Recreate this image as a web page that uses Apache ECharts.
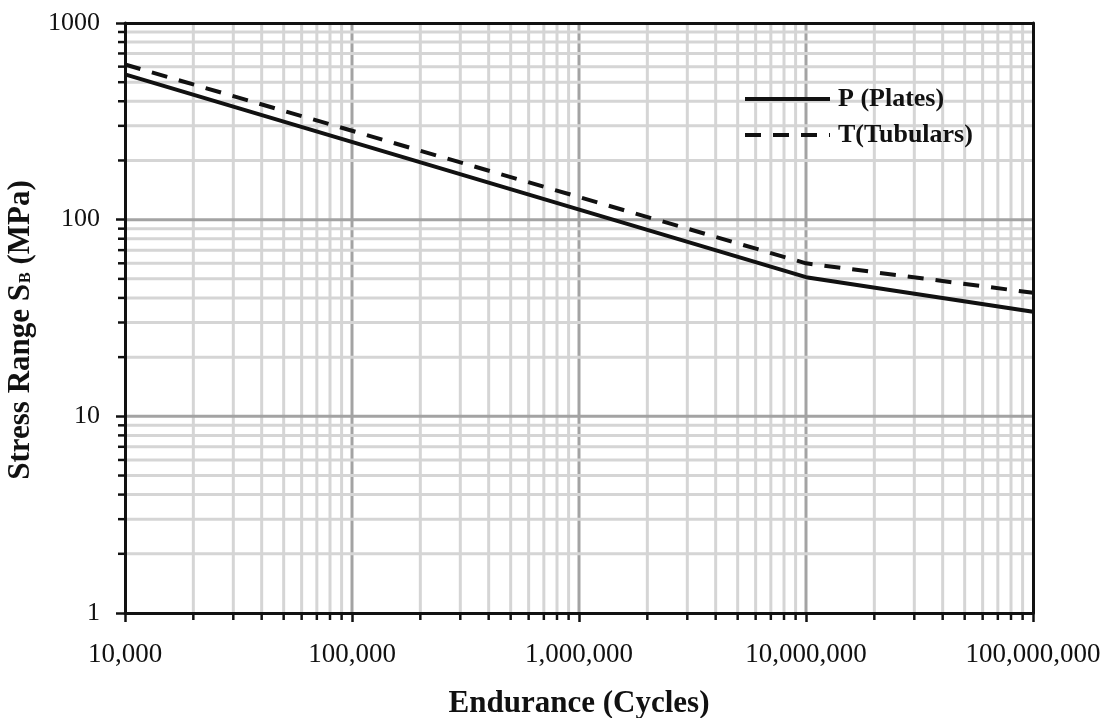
<!DOCTYPE html>
<html>
<head>
<meta charset="utf-8">
<title>S-N Curves</title>
<script src="https://cdn.jsdelivr.net/npm/echarts@6/dist/echarts.min.js"></script>
<style>
  html, body { margin: 0; padding: 0; background: #ffffff; }
  #chart { width: 1117px; height: 718px; }
</style>
</head>
<body>
<div id="chart"></div>
<script>
// Endurance (cycles) at the curve breakpoints
const cycles = [1e4, 1e7, 1e8];
// Stress range (MPa) for each design curve
const platesStress = [548, 51, 34];
const tubularsStress = [615, 60, 42.5];

// Axis decades and their labels
const xTicks = [1e4, 1e5, 1e6, 1e7, 1e8];
const xTickLabels = ['10,000', '100,000', '1,000,000', '10,000,000', '100,000,000'];
const yTicks = [1, 10, 100, 1000];
const yTickLabels = ['1', '10', '100', '1000'];

const seriesNames = ['P (Plates)', 'T(Tubulars)'];

const X_MIN = xTicks[0], X_MAX = xTicks[xTicks.length - 1];
const Y_MIN = yTicks[0], Y_MAX = yTicks[yTicks.length - 1];

// Log-grid positions: 2..9 within each decade plus the inner decades
function gridValues(decades) {
  const out = [];
  for (let i = 0; i < decades.length - 1; i++) {
    if (i > 0) out.push({ v: decades[i], major: true });
    for (let m = 2; m <= 9; m++) out.push({ v: m * decades[i], major: false });
  }
  return out;
}
const xGrid = gridValues(xTicks);
const yGrid = gridValues(yTicks);

const FONT = "'Liberation Serif', 'Times New Roman', serif";
const MINOR_COLOR = '#d5d5d5';
const MAJOR_COLOR = '#a3a3a3';
const INK = '#111111';

function vertGrid(params, api) {
  const g = xGrid[params.dataIndex];
  const bottom = api.coord([g.v, Y_MIN]);
  const top = api.coord([g.v, Y_MAX]);
  const children = [{
    type: 'line',
    shape: { x1: bottom[0], y1: top[1], x2: bottom[0], y2: bottom[1] },
    style: { stroke: g.major ? MAJOR_COLOR : MINOR_COLOR, lineWidth: 3 }
  }];
  if (!g.major) {
    children.push({
      type: 'line',
      shape: { x1: bottom[0], y1: bottom[1], x2: bottom[0], y2: bottom[1] + 7 },
      style: { stroke: INK, lineWidth: 2.5 }
    });
  }
  return { type: 'group', children: children };
}

function horizGrid(params, api) {
  const g = yGrid[params.dataIndex];
  const left = api.coord([X_MIN, g.v]);
  const right = api.coord([X_MAX, g.v]);
  const children = [{
    type: 'line',
    shape: { x1: left[0], y1: left[1], x2: right[0], y2: left[1] },
    style: { stroke: g.major ? MAJOR_COLOR : MINOR_COLOR, lineWidth: 3 }
  }];
  if (!g.major) {
    children.push({
      type: 'line',
      shape: { x1: left[0] - 7, y1: left[1], x2: left[0], y2: left[1] },
      style: { stroke: INK, lineWidth: 2.5 }
    });
  }
  return { type: 'group', children: children };
}

const chart = echarts.init(document.getElementById('chart'), null, { renderer: 'canvas' });

// Top and right frame edges
const frameAxisCommon = {
  type: 'log', logBase: 10, z: 3,
  axisLine: { show: true, lineStyle: { color: INK, width: 3 } },
  axisTick: { show: false }, axisLabel: { show: false },
  splitLine: { show: false }, minorTick: { show: false }
};

chart.setOption({
  animation: false,
  backgroundColor: '#ffffff',
  textStyle: { fontFamily: FONT },
  grid: { left: 125, right: 84, top: 23, bottom: 105, containLabel: false, outerBoundsMode: 'none' },
  legend: {
    orient: 'vertical',
    left: 743, top: 86, padding: 0,
    itemWidth: 85, itemHeight: 24, itemGap: 10,
    data: seriesNames,
    itemStyle: { opacity: 0 },
    lineStyle: { width: 4 },
    textStyle: { fontFamily: FONT, fontSize: 26, fontWeight: 'bold', color: INK, padding: [0, 0, 0, 3] }
  },
  xAxis: [{
    type: 'log', logBase: 10, min: X_MIN, max: X_MAX, z: 3,
    name: 'Endurance (Cycles)',
    nameLocation: 'middle', nameGap: 75, nameMoveOverlap: false,
    nameTextStyle: { fontFamily: FONT, fontSize: 31, fontWeight: 'bold', color: INK },
    axisLine: { show: true, onZero: false, lineStyle: { color: INK, width: 3 } },
    axisTick: { show: true, length: 9, lineStyle: { color: INK, width: 2.5 } },
    axisLabel: {
      margin: 28, fontFamily: FONT, fontSize: 27, color: INK,
      formatter: function (v) {
        const i = xTicks.findIndex(function (t) { return Math.abs(t - v) / t < 1e-6; });
        return i >= 0 ? xTickLabels[i] : '';
      }
    },
    splitLine: { show: false }
  }, Object.assign({ position: 'top', min: X_MIN, max: X_MAX }, frameAxisCommon)],
  yAxis: [{
    type: 'log', logBase: 10, min: Y_MIN, max: Y_MAX, z: 3,
    name: '{m|Stress Range S}{s|B}{e| (MPa)}',
    nameLocation: 'middle', nameGap: 86, nameRotate: 90, nameMoveOverlap: false,
    nameTextStyle: {
      fontFamily: FONT, fontSize: 31, fontWeight: 'bold', color: INK,
      rich: {
        m: { fontFamily: FONT, fontSize: 31, fontWeight: 'bold', color: INK, lineHeight: 36 },
        s: { fontFamily: FONT, fontSize: 16, fontWeight: 'bold', color: INK, lineHeight: 36, verticalAlign: 'bottom', padding: [0, 0, 5, 1] },
        e: { fontFamily: FONT, fontSize: 31, fontWeight: 'bold', color: INK, lineHeight: 36, padding: [0, 24, 0, 0] }
      }
    },
    axisLine: { show: true, onZero: false, lineStyle: { color: INK, width: 3 } },
    axisTick: { show: true, length: 9, lineStyle: { color: INK, width: 2.5 } },
    axisLabel: {
      margin: 25, fontFamily: FONT, fontSize: 26, color: INK,
      formatter: function (v) {
        const i = yTicks.findIndex(function (t) { return Math.abs(t - v) / t < 1e-6; });
        return i >= 0 ? yTickLabels[i] : '';
      }
    },
    splitLine: { show: false }
  }, Object.assign({ position: 'right', min: Y_MIN, max: Y_MAX }, frameAxisCommon)],
  series: [
    {
      type: 'custom', name: 'xgrid', z: 1, silent: true,
      xAxisIndex: 0, yAxisIndex: 0,
      renderItem: vertGrid,
      data: xGrid.map(function (g) { return [g.v, Y_MIN]; })
    },
    {
      type: 'custom', name: 'ygrid', z: 1, silent: true,
      xAxisIndex: 0, yAxisIndex: 0,
      renderItem: horizGrid,
      data: yGrid.map(function (g) { return [X_MIN, g.v]; })
    },
    {
      type: 'line', name: seriesNames[0], z: 2,
      xAxisIndex: 0, yAxisIndex: 0,
      symbol: 'none',
      lineStyle: { color: INK, width: 4, type: 'solid' },
      itemStyle: { color: INK },
      data: cycles.map(function (c, i) { return [c, platesStress[i]]; })
    },
    {
      type: 'line', name: seriesNames[1], z: 2,
      xAxisIndex: 0, yAxisIndex: 0,
      symbol: 'none',
      lineStyle: { color: INK, width: 4, type: [16, 12] },
      itemStyle: { color: INK },
      data: cycles.map(function (c, i) { return [c, tubularsStress[i]]; })
    }
  ]
});
</script>
</body>
</html>
